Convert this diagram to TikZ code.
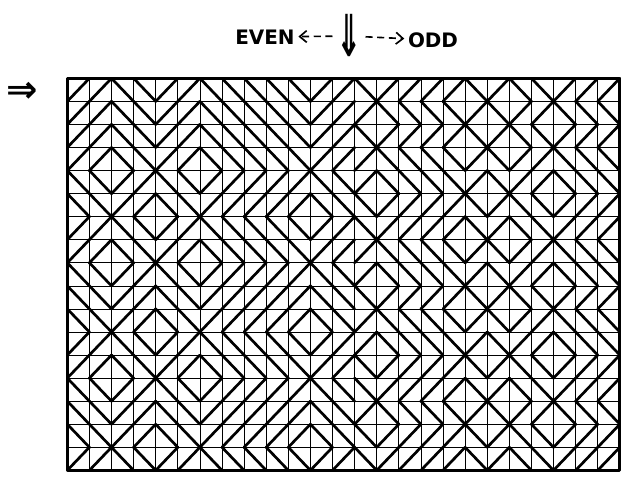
\documentclass[tikz,border=0pt]{standalone}
\usepackage{fontspec}
\setsansfont{DejaVu Sans}
\usetikzlibrary{arrows.meta, positioning}

\begin{document}
\begin{tikzpicture}[x=0.03cm, y=-0.03cm,
    gridline/.style={line width=0.6pt},
    slash/.style={line width=2.3pt, line cap=round},
    gridframe/.style={line width=2.8pt, line join=round},
    lettering/.style={font=\sffamily\bfseries\fontsize{17}{20}\selectfont, inner sep=1pt},
    bigsign/.style={font=\sffamily\bfseries\fontsize{26}{30}\selectfont, inner sep=0pt},
    dasharrow/.style={line width=1.4pt, dash pattern=on 6pt off 4pt, shorten <=3pt, shorten >=2pt,
      -{Straight Barb[length=6pt, width=10pt, line width=1.4pt]}}]
  \useasboundingbox (0,0) rectangle (624,476);

  % bits of each row and column: 0 = /, 1 = \
  \def\rowbits{{0,0,0,0,1,1,0,0,1,1,1,0,0,1,1,1,0}}
  \def\colbits{{0,0,1,1,0,0,1,1,1,1,1,0,0,1,0,0,0,0,1,0,1,1,0,0,0}}

  % header
  \node[lettering] (even) at (265,37) {EVEN};
  \node[bigsign] (down) at (349,36) {\scalebox{1.0}[1.9]{⇓}};
  \node[lettering] (odd) at (433,40) {ODD};
  \draw[dasharrow] (down) -- (even);
  \draw[dasharrow] (down) -- (odd);
  \node[bigsign, font=\sffamily\bfseries\fontsize{32}{36}\selectfont] (entry) at (22,92) {⇒};

  \begin{scope}[shift={(67.3,78.3)}, x=0.663cm, y=-0.6918cm]
    % thin cell lines
    \foreach \c in {1,...,24}
      \draw[gridline] (\c,0) -- (\c,17);
    \foreach \r in {1,...,16}
      \draw[gridline] (0,\r) -- (25,\r);

    % diagonals: even rule left of the marked column, odd rule right of it
    \foreach \r in {0,...,16}
      \foreach \c in {0,...,24} {
        \pgfmathtruncatemacro\dir{mod(\rowbits[\r]+\colbits[\c]+(\c>12)*\r,2)}
        \ifnum\dir=0
          \draw[slash] (\c,\r+1) -- (\c+1,\r);
        \else
          \draw[slash] (\c,\r) -- (\c+1,\r+1);
        \fi
      }

    \draw[gridframe] (0,0) rectangle (25,17);
  \end{scope}
\end{tikzpicture}
\end{document}
